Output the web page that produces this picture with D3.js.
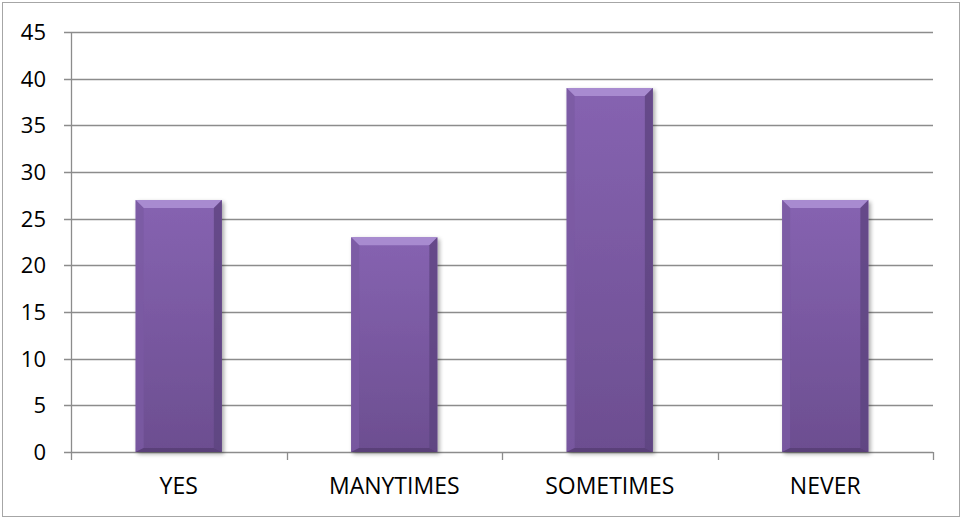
<!DOCTYPE html>
<html>
<head>
<meta charset="utf-8">
<script src="https://cdn.jsdelivr.net/npm/d3@7"></script>
<style>
   body { margin: 0; background: #fff; }
   text { font-family: "Open Sans", sans-serif; fill: #000; }
</style>
</head>
<body>
<div id="chart"></div>
<script>
const width = 962;
const height = 518;

const categories = ["YES", "MANYTIMES", "SOMETIMES", "NEVER"];
const values = [27, 23, 39, 27];
const yTicks = [0, 5, 10, 15, 20, 25, 30, 35, 40, 45];

const margin = { top: 32, right: 29, bottom: 66, left: 71 };
const bevel = 8;

const svg = d3.select("#chart").append("svg")
   .attr("width", width)
   .attr("height", height);

// outer frame
svg.append("rect")
   .attr("x", 2.5)
   .attr("y", 2.5)
   .attr("width", width - 5)
   .attr("height", height - 4)
   .attr("fill", "#fff")
   .attr("stroke", "#a6a6a6")
   .attr("stroke-width", 1);

const defs = svg.append("defs");
const face = defs.append("linearGradient")
   .attr("id", "face")
   .attr("x1", 0).attr("y1", 0).attr("x2", 0).attr("y2", 1);
face.append("stop").attr("offset", "0%").attr("stop-color", "#8663b1");
face.append("stop").attr("offset", "100%").attr("stop-color", "#6c4e90");

const shadow = defs.append("filter").attr("id", "shadow")
   .attr("x", "-10%").attr("y", "-10%").attr("width", "130%").attr("height", "130%");
shadow.append("feGaussianBlur").attr("in", "SourceAlpha").attr("stdDeviation", 2);
shadow.append("feOffset").attr("dx", 2).attr("dy", 2).attr("result", "b");
shadow.append("feComponentTransfer").append("feFuncA").attr("type", "linear").attr("slope", 0.35);
const merge = shadow.append("feMerge");
merge.append("feMergeNode");
merge.append("feMergeNode").attr("in", "SourceGraphic");

const x = d3.scaleBand()
   .domain(categories)
   .range([margin.left, width - margin.right])
   .paddingInner(0.6)
   .paddingOuter(0.3);

const xOuter = d3.scaleBand()
   .domain(categories)
   .range([margin.left, width - margin.right]);

const y = d3.scaleLinear()
   .domain([0, 45])
   .range([height - margin.bottom, margin.top]);

// gridlines
svg.append("g")
   .selectAll("line")
   .data(yTicks)
   .enter()
   .append("line")
   .attr("x1", margin.left - 7)
   .attr("x2", width - margin.right)
   .attr("y1", d => Math.round(y(d)) + 0.5)
   .attr("y2", d => Math.round(y(d)) + 0.5)
   .attr("stroke", "#8c8c8c")
   .attr("stroke-width", 1.3);

// y axis line
svg.append("line")
   .attr("x1", margin.left + 0.5)
   .attr("x2", margin.left + 0.5)
   .attr("y1", y(45))
   .attr("y2", y(0) + 8)
   .attr("stroke", "#8c8c8c")
   .attr("stroke-width", 1.3);

// x ticks at category boundaries
const boundaries = categories.map(c => xOuter(c) + xOuter.bandwidth());
svg.append("g")
   .selectAll("line")
   .data(boundaries)
   .enter()
   .append("line")
   .attr("x1", d => Math.round(d) + 0.5)
   .attr("x2", d => Math.round(d) + 0.5)
   .attr("y1", y(0))
   .attr("y2", y(0) + 8)
   .attr("stroke", "#8c8c8c")
   .attr("stroke-width", 1.3);

// y tick labels
svg.append("g")
   .selectAll("text")
   .data(yTicks)
   .enter()
   .append("text")
   .attr("x", margin.left - 25)
   .attr("y", d => y(d))
   .attr("dy", "0.36em")
   .style("text-anchor", "end")
   .style("font-size", "22px")
   .text(d => d);

// x labels
svg.append("g")
   .selectAll("text")
   .data(categories)
   .enter()
   .append("text")
   .attr("x", d => xOuter(d) + xOuter.bandwidth() / 2)
   .attr("y", y(0) + 42)
   .style("text-anchor", "middle")
   .style("font-size", "23px")
   .text(d => d);

// bars with bevel
const bars = svg.append("g")
   .selectAll("g.bar")
   .data(categories.map((c, i) => ({ name: c, value: values[i] })))
   .enter()
   .append("g")
   .attr("class", "bar")
   .attr("filter", "url(#shadow)");

bars.append("rect")
   .attr("x", d => x(d.name))
   .attr("y", d => y(d.value))
   .attr("width", x.bandwidth())
   .attr("height", d => y(0) - y(d.value))
   .attr("fill", "url(#face)");

// top bevel
bars.append("path")
   .attr("d", d => {
      const x0 = x(d.name), x1 = x0 + x.bandwidth(), t = y(d.value);
      return `M${x0},${t} L${x1},${t} L${x1 - bevel},${t + bevel} L${x0 + bevel},${t + bevel} Z`;
   })
   .attr("fill", "#a88bd0");

// left bevel
bars.append("path")
   .attr("d", d => {
      const x0 = x(d.name), t = y(d.value), b = y(0);
      return `M${x0},${t} L${x0 + bevel},${t + bevel} L${x0 + bevel},${b - 4} L${x0},${b} Z`;
   })
   .attr("fill", "#7b5aa3")
   .attr("opacity", 0.8);

// right bevel
bars.append("path")
   .attr("d", d => {
      const x1 = x(d.name) + x.bandwidth(), t = y(d.value), b = y(0);
      return `M${x1},${t} L${x1 - bevel},${t + bevel} L${x1 - bevel},${b - 4} L${x1},${b} Z`;
   })
   .attr("fill", "#5e4480")
   .attr("opacity", 0.8);

// bottom bevel
bars.append("path")
   .attr("d", d => {
      const x0 = x(d.name), x1 = x0 + x.bandwidth(), b = y(0);
      return `M${x0},${b} L${x1},${b} L${x1 - bevel},${b - 4} L${x0 + bevel},${b - 4} Z`;
   })
   .attr("fill", "#5a4079");
</script>
</body>
</html>
